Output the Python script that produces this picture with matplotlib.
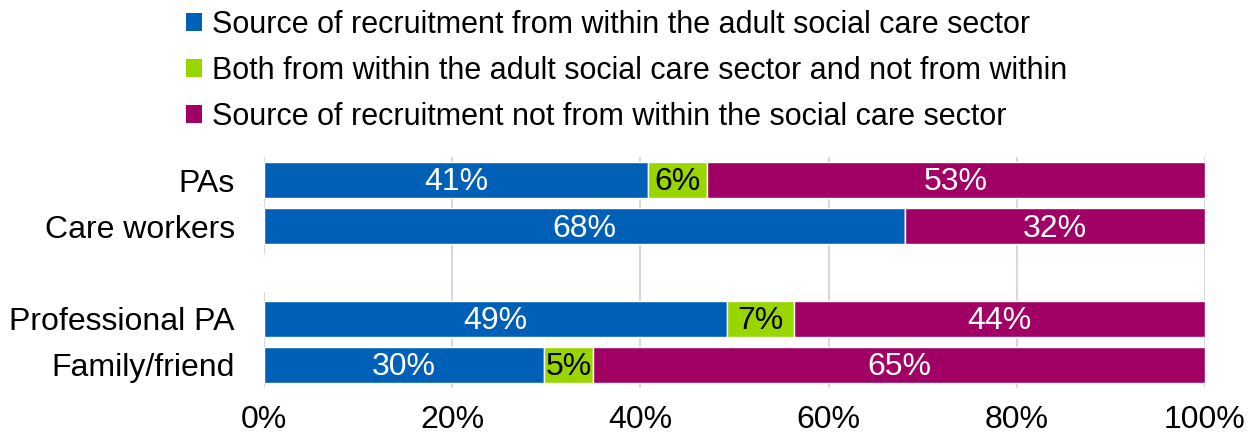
import matplotlib
matplotlib.use("Agg")
import matplotlib.pyplot as plt
from matplotlib.patches import Patch
import numpy as np

plt.rcParams['font.family'] = ['Liberation Sans', 'DejaVu Sans']

categories = ["PAs", "Care workers", "", "Professional PA", "Family/friend"]
within = [40.8, 68.1, 0, 49.2, 29.8]
both = [6.3, 0, 0, 7.1, 5.2]
not_within = [52.9, 31.9, 0, 43.7, 65.0]
within_lbl = ["41%", "68%", "", "49%", "30%"]
both_lbl = ["6%", "", "", "7%", "5%"]
not_lbl = ["53%", "32%", "", "44%", "65%"]
series_names = ["Source of recruitment from within the adult social care sector",
                "Both from within the adult social care sector and not from within",
                "Source of recruitment not from within the social care sector"]
colors = ["#0060B8", "#99D600", "#A10064"]
xticks = [0, 20, 40, 60, 80, 100]

fig = plt.figure(figsize=(12.55, 4.41), dpi=100)
ax = fig.add_axes([264/1255, (441-388)/441, (1205-264)/1255, (388-157)/441])

y = np.arange(len(categories))
h = 0.78
left = np.zeros(len(categories))
for vals, lbls, col, tc in [(within, within_lbl, colors[0], "white"),
                            (both, both_lbl, colors[1], "black"),
                            (not_within, not_lbl, colors[2], "white")]:
    vals = np.array(vals, dtype=float)
    ax.barh(y, vals, left=left, height=h, color=col, edgecolor="white", linewidth=1, zorder=3)
    for yi, (l, v, t) in enumerate(zip(left, vals, lbls)):
        if t and v > 0:
            ax.text(l + v/2, yi + 0.05, t, ha="center", va="center", color=tc, fontsize=23, zorder=4)
    left += vals

ax.set_ylim(len(categories)-0.5, -0.5)
ax.set_xlim(0, 100)
ax.set_yticks(y)
ax.set_yticklabels(categories, fontsize=23)
ax.set_xticks(xticks)
ax.set_xticklabels([f"{t}%" for t in xticks], fontsize=23)
ax.tick_params(axis="y", length=0, pad=21)
ax.tick_params(axis="x", length=0, pad=12)
for s in ax.spines.values():
    s.set_visible(False)
ax.grid(axis="x", color="#d9d9d9", linewidth=1.5, zorder=0)
ax.set_axisbelow(True)

handles = [Patch(facecolor=c, edgecolor="none") for c in colors]
fig.legend(handles, series_names, loc="upper left", bbox_to_anchor=(183/1255, 0.984),
           frameon=False, fontsize=22, handlelength=0.52, handleheight=0.52,
           handletextpad=0.33, labelspacing=0.52, borderaxespad=0, borderpad=0.1)

fig.savefig("out.png", dpi=100)
